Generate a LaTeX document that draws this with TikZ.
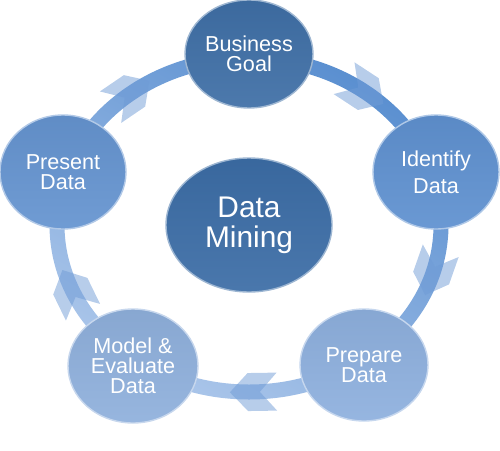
\documentclass[tikz,border=0pt]{standalone}
\usepackage{fontspec}
\setmainfont{Liberation Sans}
\usetikzlibrary{shapes.geometric,backgrounds}
\definecolor{goalblue}{HTML}{3F6FA6}
\definecolor{coreblue}{HTML}{3C6DA6}
\definecolor{identblue}{HTML}{5F91D0}
\definecolor{prepblue}{HTML}{8EB0DE}
\definecolor{modelblue}{HTML}{8FB0DC}
\definecolor{presblue}{HTML}{6594D0}
\definecolor{ringtop}{HTML}{5A8FD0}
\definecolor{ringbot}{HTML}{ABC6EA}
\definecolor{flightblue}{HTML}{6F9BD6}

\begin{document}
\begin{tikzpicture}[line cap=round,line join=round,
  stage/.style={ellipse,inner sep=0pt,text=white,align=center,
    font=\fontsize{12.3}{11.5}\selectfont,
    top color=#1!95!black,bottom color=#1!93!white,draw=#1!50!white,line width=0.8pt},
  flight/.style={fill=flightblue,fill opacity=0.5}]
  \useasboundingbox (0,0) rectangle (10,9);
  \node[stage=coreblue,minimum width=3.32cm,minimum height=2.68cm,font=\fontsize{17}{17}\selectfont] (mining) at (4.98,4.50) {Data\\Mining};
  \node[stage=goalblue,minimum width=2.56cm,minimum height=2.16cm] (goal) at (4.98,7.92) {Business\\Goal};
  \node[stage=identblue,minimum width=2.52cm,minimum height=2.28cm] (ident) at (8.72,5.56) {Identify\\[4pt]Data};
  \node[stage=prepblue,minimum width=2.56cm,minimum height=2.24cm] (prep) at (7.28,1.70) {Prepare\\Data};
  \node[stage=modelblue,minimum width=2.60cm,minimum height=2.28cm] (model) at (2.66,1.68) {Model \&\\Evaluate\\Data};
  \node[stage=presblue,minimum width=2.52cm,minimum height=2.28cm] (pres) at (1.26,5.56) {Present\\Data};
  \begin{scope}[on background layer]
    \shade[even odd rule,top color=ringtop,bottom color=ringbot,shading angle=-30]
      (mining.center) ellipse [x radius=3.99cm,y radius=3.49cm]
      (mining.center) ellipse [x radius=3.69cm,y radius=3.19cm];
    \foreach \t in {53,-17,-89,-157,128}{
      \pgfmathsetmacro\ang{atan2(-3.34*cos(\t),3.84*sin(\t))}
      \fill[flight,shift={(mining.center)},shift={(\t:3.84 and 3.34)},rotate=\ang]
        (0.45,0) -- (0.09,0.38) -- (-0.49,0.38) -- (-0.15,0) -- (-0.49,-0.38) -- (0.09,-0.38) -- cycle;
    }
  \end{scope}
\end{tikzpicture}
\end{document}
